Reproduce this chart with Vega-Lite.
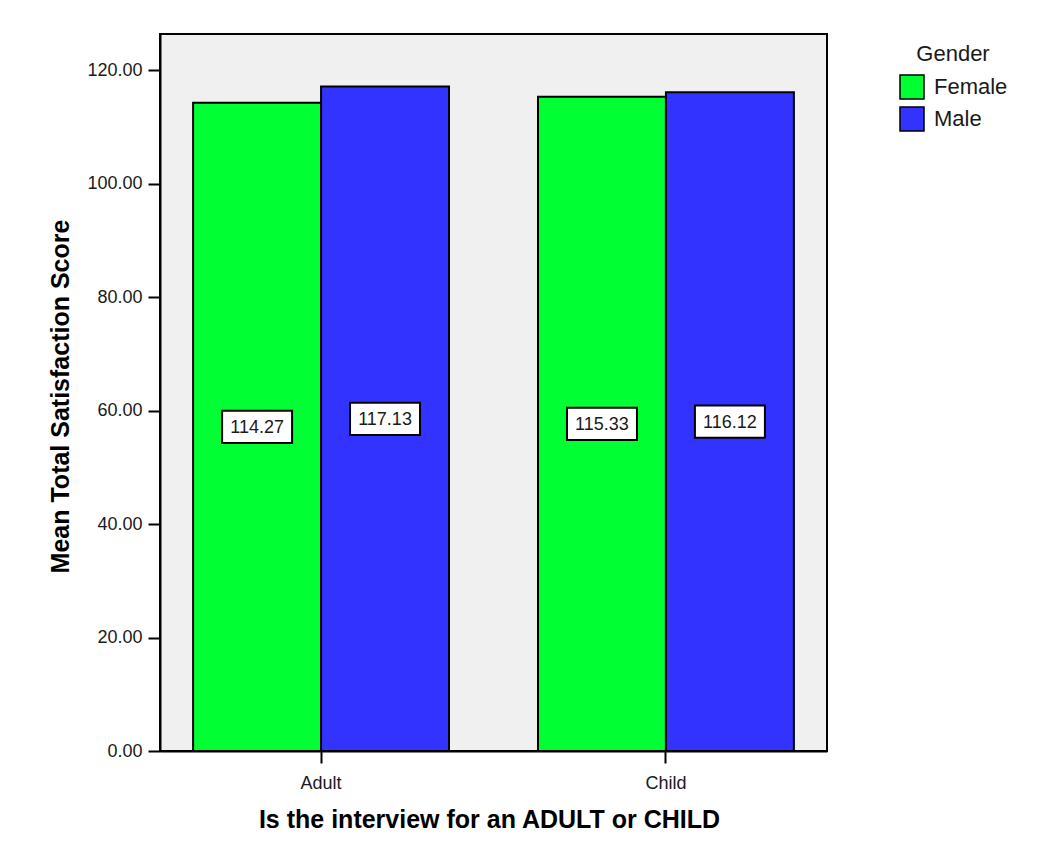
{
  "$schema": "https://vega.github.io/schema/vega-lite/v6.json",
  "autosize": {"type": "none"},
  "padding": {"left": 160, "top": 34, "right": 212, "bottom": 91},
  "width": 667,
  "height": 717,
  "background": "white",
  "data": {
    "values": [
      {"interview": "Adult", "gender": "Female", "score": 114.27},
      {"interview": "Adult", "gender": "Male", "score": 117.13},
      {"interview": "Child", "gender": "Female", "score": 115.33},
      {"interview": "Child", "gender": "Male", "score": 116.12}
    ]
  },
  "transform": [{"calculate": "datum.score / 2", "as": "mid"}],
  "encoding": {
    "x": {
      "field": "interview",
      "type": "nominal",
      "scale": {"paddingInner": 0.258, "paddingOuter": 0.096},
      "axis": {
        "title": "Is the interview for an ADULT or CHILD",
        "labelAngle": 0,
        "labelBaseline": "alphabetic",
        "labelPadding": 25,
        "titleBaseline": "alphabetic",
        "titleAlign": "center",
        "titleX": 329,
        "titleY": 76
      }
    },
    "xOffset": {
      "field": "gender",
      "type": "nominal",
      "scale": {"domain": ["Female", "Male"], "paddingInner": 0, "paddingOuter": 0}
    }
  },
  "layer": [
    {
      "mark": {"type": "bar", "stroke": "black", "strokeWidth": 2, "opacity": 1},
      "encoding": {
        "y": {
          "field": "score",
          "type": "quantitative",
          "scale": {"domain": [0, 126.4], "nice": false},
          "axis": {
            "title": "Mean Total Satisfaction Score",
            "values": [0, 20, 40, 60, 80, 100, 120],
            "format": ".2f",
            "labelPadding": 6,
            "titleAngle": 270,
            "titleAlign": "center",
            "titleBaseline": "alphabetic",
            "titleX": -92,
            "titleY": 362
          }
        },
        "fill": {
          "field": "gender",
          "type": "nominal",
          "scale": {"domain": ["Female", "Male"], "range": ["#00FF33", "#3333FF"]},
          "legend": {
            "title": "Gender",
            "orient": "none",
            "legendX": 739,
            "legendY": 10,
            "padding": 0,
            "titleAnchor": "middle",
            "titleAlign": "center",
            "titleFontSize": 22,
            "titleFontWeight": "normal",
            "titlePadding": 8,
            "labelFontSize": 22,
            "labelOffset": 9,
            "rowPadding": 2,
            "symbolType": "square",
            "symbolSize": 576,
            "symbolStrokeColor": "black",
            "symbolStrokeWidth": 1.5,
            "symbolOpacity": 1
          }
        }
      }
    },
    {
      "mark": {
        "type": "point",
        "shape": "M-1,-0.46H1V0.46H-1Z",
        "size": 4900,
        "filled": true,
        "fill": "white",
        "stroke": "black",
        "strokeWidth": 2,
        "opacity": 1
      },
      "encoding": {
        "y": {"field": "mid", "type": "quantitative"}
      }
    },
    {
      "mark": {"type": "text", "fontSize": 18, "font": "Liberation Sans", "color": "#1a1a1a", "baseline": "middle", "align": "center", "dy": 1},
      "encoding": {
        "y": {"field": "mid", "type": "quantitative"},
        "text": {"field": "score", "type": "quantitative", "format": ".2f"}
      }
    }
  ],
  "config": {
    "font": "Liberation Sans",
    "view": {"fill": "#F0F0F0", "stroke": "black", "strokeWidth": 2},
    "axis": {
      "grid": false,
      "domainColor": "black",
      "domainWidth": 2,
      "tickColor": "black",
      "tickWidth": 2,
      "tickSize": 12,
      "labelFont": "Liberation Sans",
      "labelFontSize": 18,
      "labelColor": "#1a1a1a",
      "titleFont": "Liberation Sans",
      "titleFontSize": 25,
      "titleFontWeight": "bold",
      "titleColor": "black"
    },
    "legend": {
      "labelFont": "Liberation Sans",
      "titleFont": "Liberation Sans",
      "labelColor": "#1a1a1a",
      "titleColor": "#1a1a1a"
    }
  }
}
